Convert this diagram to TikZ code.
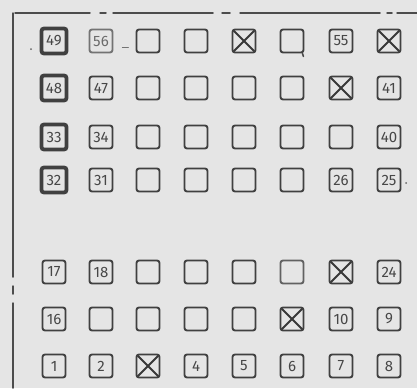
\documentclass[tikz,border=0pt]{standalone}
\usepackage{fontspec}
\setsansfont{Fira Sans}
\usetikzlibrary{positioning}

\begin{document}
\begin{tikzpicture}[x=1pt,y=-1pt,line cap=round,
  seat/.style={draw=black!75,line width=1.9pt,rounded corners=2.5pt,minimum size=23pt,inner sep=0pt,
    font=\sffamily\fontsize{15}{15}\selectfont,text=black!72},
  headseat/.style={seat,line width=3.8pt,minimum size=25pt},
  faintseat/.style={seat,draw=black!55,text=black!58},
  takenseat/.style={seat,path picture={\draw[black!78,line width=1.8pt]
    (path picture bounding box.north west) -- (path picture bounding box.south east)
    (path picture bounding box.north east) -- (path picture bounding box.south west);}},
  frameline/.style={black!70,line width=1.5pt}]
\useasboundingbox[fill=black!10] (0,0) rectangle (417,388);
% frame
\draw[frameline] (15,13) -- (90,13);
\draw[frameline] (100,13) -- (106,13);
\draw[frameline] (113,13) -- (213,13);
\draw[frameline] (222,13) -- (230,13);
\draw[frameline] (240,13) -- (380,13);
\draw[frameline] (387,13) -- (392,13);
\draw[frameline] (397,13) -- (417,13);
\draw[frameline] (13,13) -- (13,277);
\draw[frameline] (13,286) -- (13,294);
\draw[frameline] (13,303) -- (13,388);
% row 1
\node[headseat] (b11) at (54,41) {49};
\node[faintseat] (b12) at (101,41) {56};
\node[seat] (b13) at (148,41) {};
\node[seat] (b14) at (196,41) {};
\node[takenseat] (b15) at (244,41) {};
\node[seat] (b16) at (292,41) {};
\node[seat] (b17) at (341,41) {55};
\node[takenseat] (b18) at (389,41) {};
% row 2
\node[headseat] (b21) at (54,88) {48};
\node[seat] (b22) at (101,88) {47};
\node[seat] (b23) at (148,88) {};
\node[seat] (b24) at (196,88) {};
\node[seat] (b25) at (244,88) {};
\node[seat] (b26) at (292,88) {};
\node[takenseat] (b27) at (341,88) {};
\node[seat] (b28) at (389,88) {41};
% row 3
\node[headseat] (b31) at (54,137) {33};
\node[seat] (b32) at (101,137) {34};
\node[seat] (b33) at (148,137) {};
\node[seat] (b34) at (196,137) {};
\node[seat] (b35) at (244,137) {};
\node[seat] (b36) at (292,137) {};
\node[seat] (b37) at (341,137) {};
\node[seat] (b38) at (389,137) {40};
% row 4
\node[headseat] (b41) at (54,180) {32};
\node[seat] (b42) at (101,180) {31};
\node[seat] (b43) at (148,180) {};
\node[seat] (b44) at (196,180) {};
\node[seat] (b45) at (244,180) {};
\node[seat] (b46) at (292,180) {};
\node[seat] (b47) at (341,180) {26};
\node[seat] (b48) at (389,180) {25};
% row 5
\node[seat] (b51) at (54,272) {17};
\node[seat] (b52) at (101,272) {18};
\node[seat] (b53) at (148,272) {};
\node[seat] (b54) at (196,272) {};
\node[seat] (b55) at (244,272) {};
\node[seat,draw=black!62] (b56) at (292,272) {};
\node[takenseat] (b57) at (341,272) {};
\node[seat] (b58) at (389,272) {24};
% row 6
\node[seat] (b61) at (54,319) {16};
\node[seat] (b62) at (101,319) {};
\node[seat] (b63) at (148,319) {};
\node[seat] (b64) at (196,319) {};
\node[seat] (b65) at (244,319) {};
\node[takenseat] (b66) at (292,319) {};
\node[seat] (b67) at (341,319) {10};
\node[seat] (b68) at (389,319) {9};
% row 7
\node[seat] (b71) at (54,366) {1};
\node[seat] (b72) at (101,366) {2};
\node[takenseat] (b73) at (148,366) {};
\node[seat] (b74) at (196,366) {4};
\node[seat] (b75) at (244,366) {5};
\node[seat] (b76) at (292,366) {6};
\node[seat] (b77) at (341,366) {7};
\node[seat] (b78) at (389,366) {8};
% stray pencil marks
\fill[black!60] (31,49) circle (1pt);
\fill[black!60] (406,183) circle (1pt);
\draw[black!55,line width=1pt] (b12.east) ++(9,6) -- ++(6,0);
\draw[black!70,line width=1.6pt] (b16.south east) ++(-2,0) -- ++(1,3);
\end{tikzpicture}
\end{document}
